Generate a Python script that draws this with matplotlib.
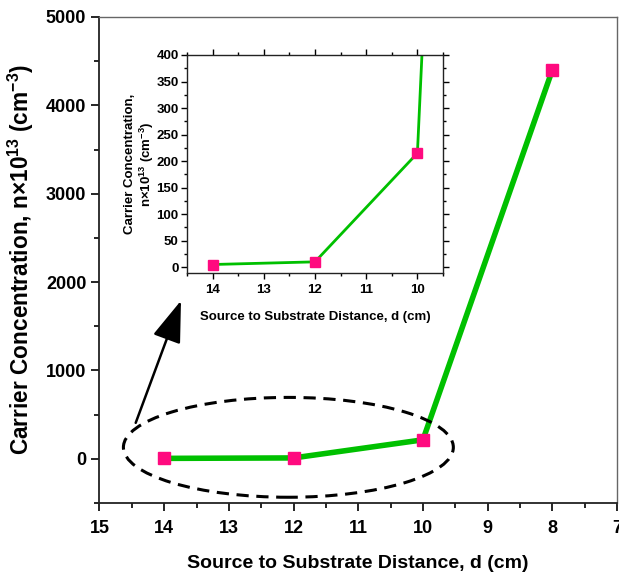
import matplotlib
matplotlib.use("Agg")
import matplotlib.pyplot as plt
from matplotlib.patches import Ellipse
from matplotlib.ticker import MultipleLocator
from matplotlib import font_manager

names = {f.name for f in font_manager.fontManager.ttflist}
narrow = 'Liberation Sans Narrow' if 'Liberation Sans Narrow' in names else 'Liberation Sans'
plt.rcParams['font.family'] = [narrow, 'DejaVu Sans']
plt.rcParams['mathtext.fontset'] = 'custom'
plt.rcParams['mathtext.rm'] = 'Liberation Sans:bold'
plt.rcParams['mathtext.bf'] = 'Liberation Sans:bold'

# Data
distance = [14, 12, 10, 8]
concentration = [5, 10, 215, 4400]
inset_distance = [14, 12, 10, 8]
inset_concentration = [5, 10, 215, 4400]

main_xticks = [15, 14, 13, 12, 11, 10, 9, 8, 7]
main_yticks = [0, 1000, 2000, 3000, 4000, 5000]
inset_xticks = [14, 13, 12, 11, 10]
inset_yticks = [0, 50, 100, 150, 200, 250, 300, 350, 400]

green = '#00c000'
pink = '#ff0a7f'

fig = plt.figure(figsize=(6.19, 5.74), dpi=100)
ax = fig.add_axes([0.1607, 0.1237, 0.8361, 0.8467])
ax.plot(distance, concentration, color=green, lw=4, zorder=2)
ax.plot(distance, concentration, ls='none', marker='s', ms=8.5, color=pink, zorder=3)
ax.set_xlim(15, 7)
ax.set_ylim(-500, 5000)
ax.set_xticks(main_xticks)
ax.set_yticks(main_yticks)
ax.xaxis.set_minor_locator(MultipleLocator(0.5))
ax.yaxis.set_minor_locator(MultipleLocator(500))
ax.tick_params(which='major', direction='out', length=6, width=1.2, labelsize=13, top=False, right=False)
ax.tick_params(axis='x', which='major', pad=6)
ax.tick_params(which='minor', direction='out', length=3.5, width=1.2, top=False, right=False)
for lbl in ax.get_xticklabels() + ax.get_yticklabels():
    lbl.set_fontweight('bold')
for s in ['left', 'bottom']:
    ax.spines[s].set_linewidth(1.3)
    ax.spines[s].set_color('#222222')
for s in ['top', 'right']:
    ax.spines[s].set_linewidth(1.0)
    ax.spines[s].set_color('#666666')
ax.set_xlabel('Source to Substrate Distance, d (cm)', fontsize=14, fontweight='bold',
              family='Liberation Sans', labelpad=13)
ax.set_ylabel(r'Carrier Concentration, n×10$^{\mathbf{13}}$ (cm$^{\mathbf{-3}}$)', fontsize=16.3,
              fontweight='bold', family='Liberation Sans', labelpad=7)

ell = Ellipse((12.08, 130), width=5.1, height=1130, fill=False, ls=(0, (4, 2.5)), lw=2.2,
              color='black', zorder=4)
ax.add_patch(ell)
ax.annotate('', xy=(13.74, 1790), xytext=(14.44, 407),
            arrowprops=dict(arrowstyle='-|>,head_length=2.6,head_width=0.9', color='black', lw=1.8,
                            shrinkA=0, shrinkB=0))

# Inset
ins = fig.add_axes([0.302, 0.5244, 0.4137, 0.3798])
ins.plot(inset_distance, inset_concentration, color=green, lw=2, zorder=2)
ins.plot(inset_distance, inset_concentration, ls='none', marker='s', ms=6.5, color=pink, zorder=3)
ins.set_xlim(14.5, 9.5)
ins.set_ylim(-11, 400)
ins.set_xticks(inset_xticks)
ins.set_yticks(inset_yticks)
ins.xaxis.set_minor_locator(MultipleLocator(0.5))
ins.yaxis.set_minor_locator(MultipleLocator(25))
ins.tick_params(which='major', direction='out', length=4, width=1.0, labelsize=9.5,
                top=True, right=True, pad=2)
ins.tick_params(axis='x', which='major', pad=4)
ins.tick_params(which='minor', direction='out', length=2.5, width=1.0, top=True, right=True)
for lbl in ins.get_xticklabels() + ins.get_yticklabels():
    lbl.set_fontweight('bold')
for s in ins.spines.values():
    s.set_linewidth(1.0)
    s.set_color('#222222')
ins.set_xlabel('Source to Substrate Distance, d (cm)', fontsize=9.5, fontweight='bold',
               family='Liberation Sans', labelpad=11)
ins.set_ylabel('Carrier Concentration,\n' + r'n×10$^{\mathbf{13}}$ (cm$^{\mathbf{-3}}$)', fontsize=9.5,
               fontweight='bold', family='Liberation Sans', labelpad=0)

fig.savefig('out.png', dpi=100)
